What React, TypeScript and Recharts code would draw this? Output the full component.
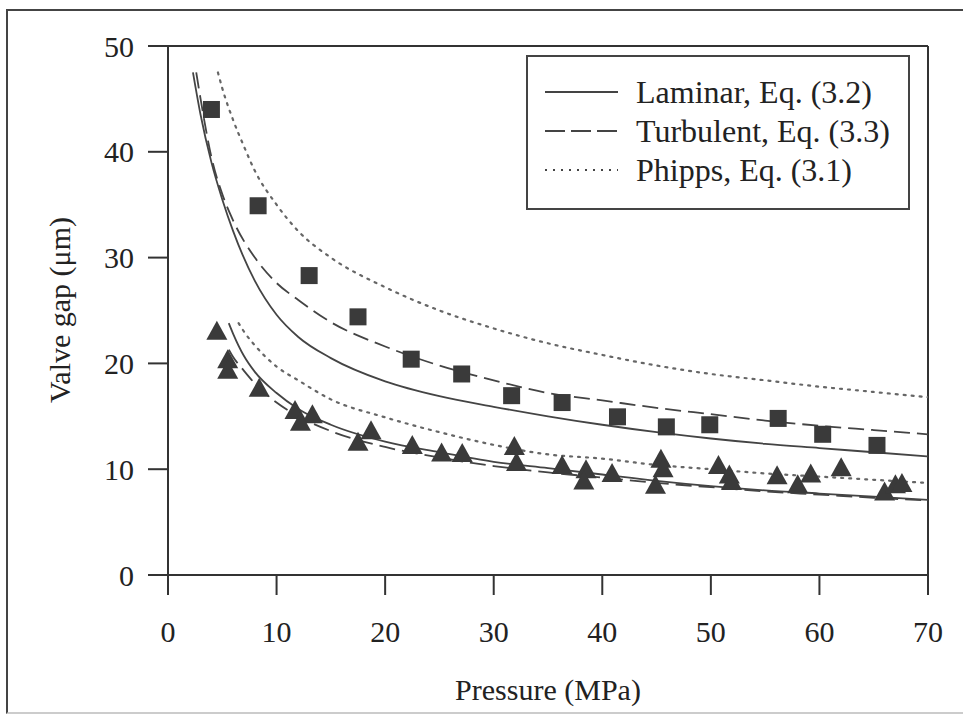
import React from 'react';
import { ComposedChart, Line, Scatter, XAxis, YAxis, ReferenceLine, Legend } from 'recharts';

// Measured points (squares: upper data set)
const squarePressure = [4.0, 8.3, 13.0, 17.5, 22.4, 27.05, 31.65, 36.3, 41.4, 45.9, 49.9, 56.2, 60.3, 65.3];
const squareGap = [44.0, 34.9, 28.3, 24.4, 20.4, 19.0, 16.95, 16.3, 14.95, 14.0, 14.2, 14.8, 13.3, 12.25];

// Measured points (triangles: lower data set)
const trianglePressure = [4.5, 5.5, 5.5, 8.4, 11.7, 13.3, 12.2, 18.7, 17.5, 22.5, 25.2, 27.1, 31.9, 32.1, 36.3, 38.5, 38.3, 40.9, 45.4, 45.6, 44.9, 50.7, 51.7, 51.9, 56.1, 58.0, 59.2, 62.0, 66.0, 67.0, 67.6];
const triangleGap = [22.9, 20.2, 19.2, 17.5, 15.4, 15.0, 14.3, 13.5, 12.4, 12.1, 11.4, 11.35, 12.0, 10.5, 10.2, 9.8, 8.75, 9.45, 10.8, 9.9, 8.35, 10.2, 9.3, 8.7, 9.25, 8.4, 9.4, 10.0, 7.7, 8.4, 8.5];

// Model curves, upper set
const laminarUpperP = [2.3, 3, 4, 5, 6, 8, 10, 12, 15, 20, 25, 30, 35, 40, 45, 50, 55, 60, 65, 70];
const laminarUpperGap = [47.5, 43.5, 39, 35.5, 32.5, 27.8, 24.6, 22.5, 20.5, 18.3, 16.9, 15.9, 15.0, 14.2, 13.5, 12.9, 12.4, 12.0, 11.6, 11.2];
const turbulentUpperP = [2.6, 3, 4, 5, 6, 8, 10, 12, 15, 20, 25, 30, 35, 40, 45, 50, 55, 60, 65, 70];
const turbulentUpperGap = [47.5, 45, 39.5, 36, 33.5, 30, 27.6, 26.0, 23.9, 21.6, 19.8, 18.4, 17.2, 16.5, 15.8, 15.2, 14.6, 14.1, 13.7, 13.3];
const phippsUpperP = [4.6, 5, 6, 7, 8, 10, 12, 15, 20, 25, 30, 35, 40, 45, 50, 55, 60, 65, 70];
const phippsUpperGap = [47.5, 46, 43, 40.5, 38.2, 35, 32.5, 30, 27.2, 25, 23.3, 21.9, 20.8, 19.8, 19.0, 18.4, 17.8, 17.3, 16.8];

// Model curves, lower set
const laminarLowerP = [5.6, 6, 7, 8, 10, 12, 15, 20, 25, 30, 35, 40, 45, 50, 55, 60, 65, 70];
const laminarLowerGap = [23.8, 22.8, 20.7, 19.2, 17.2, 15.7, 14.2, 12.6, 11.6, 10.7, 10.1, 9.5, 8.9, 8.4, 8.0, 7.7, 7.4, 7.1];
const turbulentLowerP = [5.6, 6, 7, 8, 10, 12, 15, 20, 25, 30, 35, 40, 45, 50, 55, 60, 65, 70];
const turbulentLowerGap = [21.3, 20.6, 19.3, 18.1, 16.3, 15.0, 13.6, 12.1, 11.1, 10.3, 9.7, 9.2, 8.7, 8.3, 7.9, 7.6, 7.3, 7.05];
const phippsLowerP = [6.5, 7, 8, 10, 12, 15, 20, 25, 30, 35, 40, 45, 50, 55, 60, 65, 70];
const phippsLowerGap = [23.8, 23.0, 21.7, 19.7, 18.4, 16.6, 14.9, 13.5, 12.3, 11.4, 11.0, 10.4, 10.0, 9.6, 9.3, 9.0, 8.7];

const xTicks = [0, 10, 20, 30, 40, 50, 60, 70];
const yTicks = [0, 10, 20, 30, 40, 50];

const legendItems = [
  { label: 'Laminar, Eq. (3.2)', dash: undefined as string | undefined, width: 1.8 },
  { label: 'Turbulent, Eq. (3.3)', dash: '20 6', width: 1.8 },
  { label: 'Phipps, Eq. (3.1)', dash: '2 6', width: 2 },
];

const zip = (xs: number[], ys: number[]) => xs.map((x, i) => ({ x, y: ys[i] }));

const FONT = '"Liberation Serif", "Times New Roman", serif';
const INK = '#333';

const SquareShape = (props: any) => {
  const { cx, cy } = props;
  return <rect x={cx - 8.5} y={cy - 8.5} width={17} height={17} fill="#3a3a3a" />;
};

const TriangleShape = (props: any) => {
  const { cx, cy } = props;
  return <polygon points={`${cx},${cy - 12} ${cx - 10.5},${cy + 7} ${cx + 10.5},${cy + 7}`} fill="#3a3a3a" />;
};

const LegendBox = () => (
  <svg width={385} height={156} style={{ display: 'block' }}>
    <rect x={1} y={1} width={382} height={153} fill="#fff" stroke="#444" strokeWidth={2} />
    {legendItems.map((it, i) => {
      const y = 37 + i * 39;
      return (
        <g key={it.label}>
          <line x1={19} x2={92} y1={y} y2={y} stroke="#444" strokeWidth={it.width} strokeDasharray={it.dash} />
          <text x={110} y={y + 11} fontFamily={FONT} fontSize={32} fill="#222">{it.label}</text>
        </g>
      );
    })}
  </svg>
);

export default function App() {
  const tickStyle = { fontFamily: FONT, fontSize: 30, fill: '#222' };
  return (
    <div style={{ position: 'absolute', left: 0, top: 0, width: 963, height: 723, background: '#fff', overflow: 'hidden' }}>
      <div style={{ position: 'absolute', left: 6, top: 9, width: 1000, height: 701, borderLeft: '2px solid #444', borderTop: '2px solid #444', borderBottom: '2px solid #ccc' }} />
      <div style={{ position: 'absolute', left: 0, top: 0 }}>
        <ComposedChart width={963} height={723} margin={{ top: 46, right: 35, bottom: 88, left: 0 }}>
          <XAxis
            type="number"
            dataKey="x"
            domain={[0, 70]}
            ticks={xTicks}
            allowDataOverflow
            height={60}
            tickSize={20}
            tickMargin={26}
            tick={tickStyle}
            stroke={INK}
            strokeWidth={2}
            label={{
              content: () => (
                <text x={548} y={700} textAnchor="middle" fontFamily={FONT} fontSize={30} fill="#222">Pressure (MPa)</text>
              ),
            }}
          />
          <YAxis
            type="number"
            domain={[0, 50]}
            ticks={yTicks}
            allowDataOverflow
            width={168}
            tickSize={20}
            tickMargin={14}
            tick={tickStyle}
            stroke={INK}
            strokeWidth={2}
            label={{
              content: () => (
                <text x={70} y={310} transform="rotate(-90 70 310)" textAnchor="middle" fontFamily={FONT} fontSize={30} fill="#222">Valve gap (μm)</text>
              ),
            }}
          />
          <ReferenceLine y={50} stroke={INK} strokeWidth={2} />
          <ReferenceLine x={70} stroke={INK} strokeWidth={2} />

          <Line data={zip(laminarUpperP, laminarUpperGap)} dataKey="y" type="monotone" stroke="#444" strokeWidth={1.8} dot={false} isAnimationActive={false} />
          <Line data={zip(turbulentUpperP, turbulentUpperGap)} dataKey="y" type="monotone" stroke="#444" strokeWidth={1.8} strokeDasharray="16 7" dot={false} isAnimationActive={false} />
          <Line data={zip(phippsUpperP, phippsUpperGap)} dataKey="y" type="monotone" stroke="#666" strokeWidth={2.2} strokeDasharray="2 6" strokeLinecap="round" dot={false} isAnimationActive={false} />
          <Line data={zip(laminarLowerP, laminarLowerGap)} dataKey="y" type="monotone" stroke="#444" strokeWidth={1.8} dot={false} isAnimationActive={false} />
          <Line data={zip(turbulentLowerP, turbulentLowerGap)} dataKey="y" type="monotone" stroke="#444" strokeWidth={1.8} strokeDasharray="16 7" dot={false} isAnimationActive={false} />
          <Line data={zip(phippsLowerP, phippsLowerGap)} dataKey="y" type="monotone" stroke="#666" strokeWidth={2.2} strokeDasharray="2 6" strokeLinecap="round" dot={false} isAnimationActive={false} />

          <Scatter data={zip(squarePressure, squareGap)} dataKey="y" shape={SquareShape} isAnimationActive={false} />
          <Scatter data={zip(trianglePressure, triangleGap)} dataKey="y" shape={TriangleShape} isAnimationActive={false} />

          <Legend
            layout="horizontal"
            verticalAlign="middle"
            align="center"
            wrapperStyle={{ left: 526, top: 55, width: 385, height: 156 }}
            content={() => <LegendBox />}
          />
        </ComposedChart>
      </div>
    </div>
  );
}
